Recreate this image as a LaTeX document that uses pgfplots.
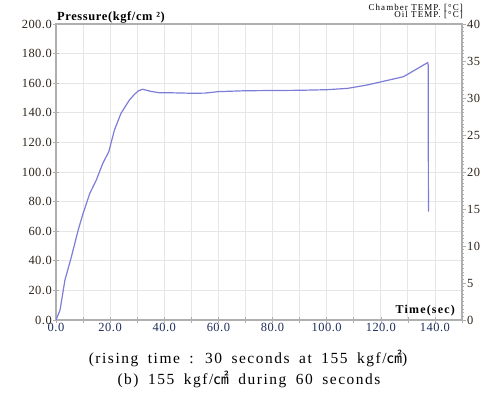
\documentclass[border=0pt]{standalone}
\usepackage{fontspec}
\setmainfont{Liberation Serif}
\newfontfamily\cjk{Noto Sans CJK KR}
\usepackage{pgfplots}
\pgfplotsset{compat=1.18}
\definecolor{linec}{RGB}{125,125,215}
\definecolor{gridc}{RGB}{230,230,230}
\definecolor{axc}{RGB}{175,175,175}
\definecolor{ylab}{RGB}{45,35,25}
\definecolor{xlab}{RGB}{30,45,90}
\begin{document}
\begin{tikzpicture}[x=1bp,y=1bp]
\path[use as bounding box] (-56bp,-73bp) rectangle (439bp,320bp);
\begin{axis}[
  at={(0,0)}, anchor=south west, scale only axis,
  width=406bp, height=296bp,
  xmin=0, xmax=150, ymin=0, ymax=200,
  xtick={0,10,...,150},
  xticklabels={0.0,,20.0,,40.0,,60.0,,80.0,,100.0,,120.0,,140.0,},
  ytick={0,20,...,200},
  yticklabel={\pgfmathprintnumber[fixed,fixed zerofill,precision=1]{\tick}},
  /pgf/number format/assume math mode=true,
  grid=major, major grid style={gridc, line width=0.8bp},
  minor x tick num=9, minor y tick num=9,
  tick align=center, major tick length=6bp, minor tick length=2.5bp,
  every tick/.style={axc, line width=0.6bp},
  axis line style={axc, line width=1.6bp},
  xtick pos=bottom, ytick pos=left,
  tick label style={font=\fontsize{12.5}{14}\selectfont\addfontfeature{LetterSpace=4}},
  yticklabel style={ylab, inner sep=1bp},
  xticklabel style={xlab, inner sep=0.5bp},
]
\addplot[linec, line width=1.2bp] coordinates {
(0,0) (1.5,6.8) (3.3,27) (5.7,42.8) (8.2,60.8) (10,72) (12.5,85.6) (14.9,94.6)
(17.3,105.9) (19.5,113.7) (21.6,128.4) (24,139.6) (27.1,148.6) (29,152.5)
(30.5,154.9) (32,155.9) (35,154.5) (38,153.6) (40.5,153.6) (50.3,153.2)
(55,153.3) (60,154.3) (69.8,154.9) (90,155.2) (100,155.6) (107.7,156.5)
(115,158.8) (128.4,164.4) (137.3,173.9) (137.5,172.5) (137.6,73.2)
};
\end{axis}
\begin{axis}[
  at={(0,0)}, anchor=south west, scale only axis,
  width=406bp, height=296bp,
  xmin=0, xmax=150, ymin=0, ymax=40,
  axis x line=none, axis y line*=right,
  ytick={0,5,...,40}, minor y tick num=9,
  tick align=outside, major tick length=4bp, minor tick length=2bp,
  every tick/.style={axc, line width=0.6bp},
  axis line style={axc, line width=1.6bp},
  /pgf/number format/assume math mode=true,
  tick label style={font=\fontsize{12.5}{14}\selectfont\addfontfeature{LetterSpace=4}, ylab, inner sep=1bp},
]
\addplot[draw=none] coordinates {(0,0)};
\end{axis}
\node[anchor=base west, inner sep=0] at (1bp,299bp) {\fontsize{12.5}{14}\selectfont\bfseries\addfontfeature{LetterSpace=5}Pressure(kgf/cm ²)};
\node[anchor=base east, inner sep=0] at (407bp,309.5bp) {\fontsize{9}{10}\selectfont\addfontfeature{LetterSpace=12}Chamber TEMP. [°C]};
\node[anchor=base east, inner sep=0] at (407bp,302bp) {\fontsize{9}{10}\selectfont\addfontfeature{LetterSpace=12}Oil TEMP. [°C]};
\node[anchor=base east, inner sep=0] at (399bp,7bp) {\fontsize{12}{14}\selectfont\bfseries\addfontfeature{LetterSpace=10}Time(sec)};
\node[anchor=base, inner sep=0] at (192bp,-43bp) {\fontsize{15.5}{18}\selectfont\addfontfeature{LetterSpace=10}\spaceskip=9.5bp (rising time : 30 seconds at 155 kgf/{\cjk ㎠})};
\node[anchor=base, inner sep=0] at (193bp,-64bp) {\fontsize{15.5}{18}\selectfont\addfontfeature{LetterSpace=10}\spaceskip=9.5bp (b) 155 kgf/{\cjk ㎠} during 60 seconds};
\end{tikzpicture}
\end{document}
